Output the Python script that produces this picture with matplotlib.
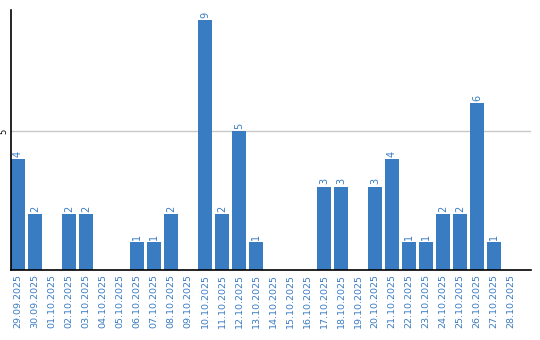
import matplotlib
matplotlib.use('Agg')
import matplotlib.pyplot as plt

# ── Dados ──
dates = ['29.09.2025', '30.09.2025', '01.10.2025', '02.10.2025', '03.10.2025',
         '04.10.2025', '05.10.2025', '06.10.2025', '07.10.2025', '08.10.2025',
         '09.10.2025', '10.10.2025', '11.10.2025', '12.10.2025', '13.10.2025',
         '14.10.2025', '15.10.2025', '16.10.2025', '17.10.2025', '18.10.2025',
         '19.10.2025', '20.10.2025', '21.10.2025', '22.10.2025', '23.10.2025',
         '24.10.2025', '25.10.2025', '26.10.2025', '27.10.2025', '28.10.2025']
counts = [4, 2, 0, 2, 2, 0, 0, 1, 1, 2,
          0, 9, 2, 5, 1, 0, 0, 0, 3, 3,
          0, 3, 4, 1, 1, 2, 2, 6, 1, 0]

BLUE = '#3a7cc2'

fig = plt.figure(figsize=(5.4, 3.4), dpi=100)
ax = fig.add_axes([11/540, 70/340, 520/540, 260/340])

x = list(range(len(dates)))
ax.bar(x, counts, width=0.82, color=BLUE, zorder=2)

for xi, v in zip(x, counts):
    if v > 0:
        ax.text(xi, v + 0.08, str(v), rotation=90, ha='center', va='bottom',
                color=BLUE, fontsize=7)

ax.set_xlim(-0.41, 30.18)
ax.set_ylim(0, 9.35)
ax.set_yticks([5])
ax.set_yticklabels(['5'], rotation=90, va='center', fontsize=6)
ax.set_xticks(x)
ax.set_xticklabels(dates, rotation=90, color=BLUE, fontsize=6.8)
ax.tick_params(axis='both', length=0, pad=3)
ax.tick_params(axis='y', pad=2)
ax.grid(axis='y', color='#c8c8c8', linewidth=1, zorder=1)

ax.spines['top'].set_visible(False)
ax.spines['right'].set_visible(False)
ax.spines['left'].set_linewidth(1.2)
ax.spines['bottom'].set_linewidth(1.2)

plt.savefig('out.png', dpi=100)
plt.close()
